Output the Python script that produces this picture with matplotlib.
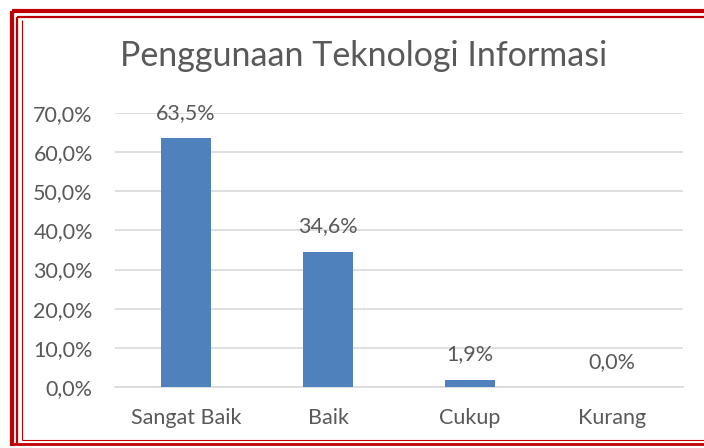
import matplotlib.pyplot as plt
import numpy as np
from matplotlib.ticker import FuncFormatter

plt.rcParams['font.family'] = ['Lato', 'DejaVu Sans']

categories = ['Sangat Baik', 'Baik', 'Cukup', 'Kurang']
values = [63.5, 34.6, 1.9, 0.0]
title = 'Penggunaan Teknologi Informasi'

text_color = '#595959'
bar_color = '#4F81BD'
grid_color = '#D9D9D9'
red = '#C00000'

fig = plt.figure(figsize=(7.04, 4.48), dpi=100)
ax = fig.add_axes([115 / 704, 1 - 387 / 448, (683 - 115) / 704, (387 - 113) / 448])

x = np.arange(len(categories))
ax.bar(x, values, width=0.35, color=bar_color, zorder=3)

for xi, v in zip(x, values):
    ax.annotate(f'{v:.1f}%'.replace('.', ','), (xi, v), xytext=(0, 18),
                textcoords='offset points', ha='center', va='center',
                fontsize=15.5, color=text_color)

ax.set_xlim(-0.5, len(categories) - 0.5)
ax.set_ylim(0, 70)
ax.set_yticks(np.arange(0, 71, 10))
ax.yaxis.set_major_formatter(FuncFormatter(lambda v, p: f'{v:.1f}%'.replace('.', ',')))
ax.set_xticks(x)
ax.set_xticklabels(categories)
ax.tick_params(axis='both', length=0, labelsize=15.5, labelcolor=text_color)
ax.tick_params(axis='y', pad=16)
ax.tick_params(axis='x', pad=15)
ax.grid(axis='y', color=grid_color, linewidth=1.2, zorder=0)
for s in ['top', 'right', 'left']:
    ax.spines[s].set_visible(False)
ax.spines['bottom'].set_color(grid_color)
ax.spines['bottom'].set_linewidth(1.2)

fig.text(364 / 704, 1 - 56 / 448, title, ha='center', va='center',
         fontsize=24.5, color=text_color)

# red double frame around the chart
W, H = 704, 448

def line(x0, y0, x1, y1, lw):
    fig.add_artist(plt.Line2D([x0 / W, x1 / W], [1 - y0 / H, 1 - y1 / H],
                              transform=fig.transFigure, color=red, linewidth=lw,
                              solid_capstyle='butt'))

# outer thick
line(12, 11, 12, 446, 3.0)
line(12, 11, 704, 11, 3.0)
# middle
line(17, 17.5, 17, 443, 1.6)
line(17, 17.5, 704, 17.5, 1.6)
line(12, 444, 704, 444, 2.0)
# inner thin
line(21.5, 20.5, 21.5, 440, 0.8)
line(21.5, 440, 704, 440, 0.8)

fig.savefig('out.png', dpi=100)
